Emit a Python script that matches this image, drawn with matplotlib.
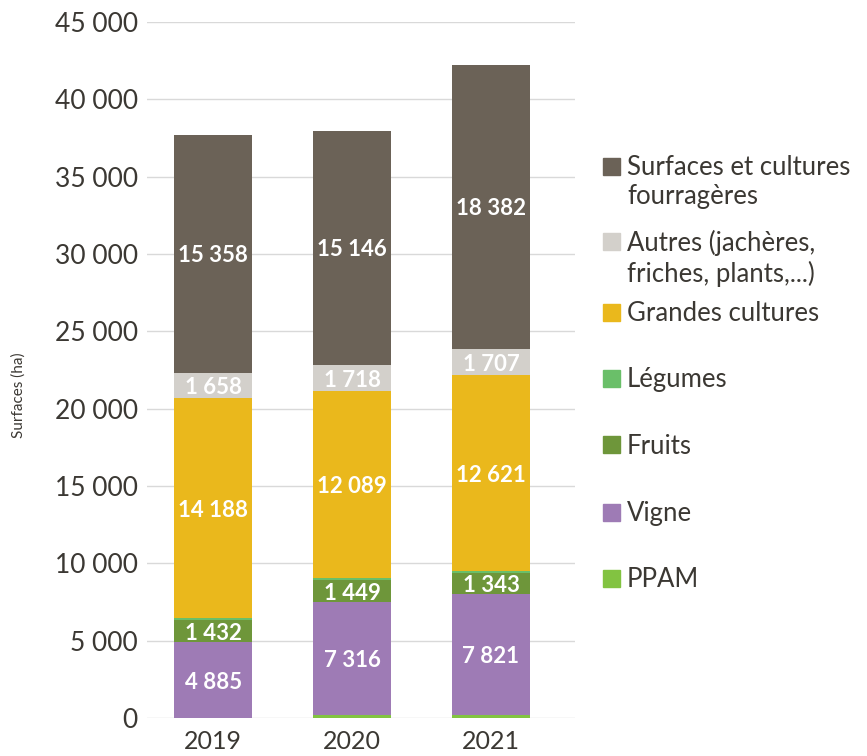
import matplotlib.pyplot as plt
from matplotlib.patches import Rectangle

plt.rcParams['font.family'] = ['Lato', 'DejaVu Sans']

years = ["2019", "2020", "2021"]
# stacking order, bottom to top
categories = ["PPAM", "Vigne", "Fruits", "Légumes", "Grandes cultures",
              "Autres (jachères,\nfriches, plants,...)",
              "Surfaces et cultures\nfourragères"]
ppam = [10, 160, 180]
vigne = [4885, 7316, 7821]
fruits = [1432, 1449, 1343]
legumes = [150, 100, 180]
grandes_cultures = [14188, 12089, 12621]
autres = [1658, 1718, 1707]
fourrageres = [15358, 15146, 18382]

series = [ppam, vigne, fruits, legumes, grandes_cultures, autres, fourrageres]
colors = ["#82c341", "#9e7bb5", "#6e963a", "#6abf69", "#eab81c", "#d3d0cb", "#6b6257"]
show_label = [False, True, True, False, True, True, True]

txt_color = "#3b3833"

fig = plt.figure(figsize=(8.67, 7.56), dpi=100)
ax = fig.add_axes([0.17, 0.0503, 0.493, 0.9207])

x = list(range(len(years)))
bottom = [0] * len(years)
for vals, col, lab in zip(series, colors, show_label):
    ax.bar(x, vals, bottom=bottom, width=0.56, color=col, zorder=3)
    if lab:
        for xi, b, v in zip(x, bottom, vals):
            ax.text(xi, b + v / 2, f"{v:,}".replace(",", " "), ha="center",
                    va="center_baseline", color="white", fontsize=16,
                    fontweight="bold", zorder=4)
    bottom = [b + v for b, v in zip(bottom, vals)]

ax.set_xlim(-0.475, 2.604)
ax.set_ylim(0, 45000)
ax.set_yticks(range(0, 45001, 5000))
ax.set_yticklabels([f"{t:,}".replace(",", " ") for t in range(0, 45001, 5000)])
ax.set_xticks(x)
ax.set_xticklabels(years)
ax.grid(axis="y", color="#d9d9d9", linewidth=1, zorder=0)
for s in ax.spines.values():
    s.set_visible(False)
ax.tick_params(axis="y", length=0, pad=7, labelsize=19, labelcolor=txt_color)
ax.tick_params(axis="x", length=0, pad=9, labelsize=18, labelcolor=txt_color)
ax.set_ylabel("Surfaces (ha)", fontsize=11, color=txt_color)
ax.yaxis.set_label_coords(-0.285, 0.464)

# legend, top to bottom
leg_y = [166, 241, 312, 378, 445, 512, 578]
for name, col, yy in zip(categories[::-1], colors[::-1], leg_y):
    fy = 1 - yy / 756
    fig.patches.append(Rectangle((603 / 867, fy - 8.5 / 756), 17 / 867, 17 / 756,
                                 color=col, transform=fig.transFigure))
    fig.text(627 / 867, fy + 11 / 756, name, ha="left", va="top", fontsize=18.5,
             color=txt_color, linespacing=1.22)

fig.savefig("out.png", dpi=100)
